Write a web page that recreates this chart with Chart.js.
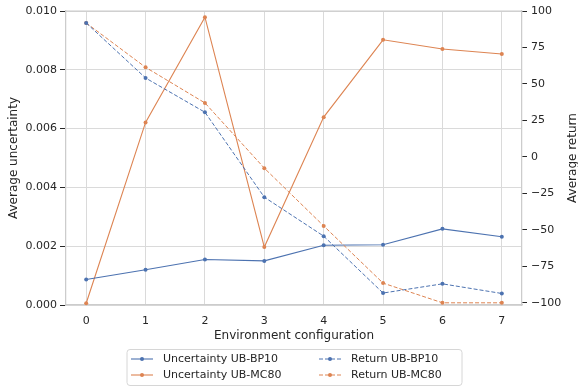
<!DOCTYPE html>
<html>
<head>
<meta charset="utf-8">
<script src="https://cdn.jsdelivr.net/npm/chart.js@4.4.1/dist/chart.umd.min.js"></script>
<style>
  html, body { margin: 0; padding: 0; background: #fff; }
</style>
</head>
<body>
<canvas id="chart" width="578" height="387"></canvas>
<script>
// environment configurations on the x axis
const configs = [0, 1, 2, 3, 4, 5, 6, 7]

// average uncertainty (left axis)
const uncertaintyBP10 = [0.00087, 0.00120, 0.00155, 0.00150, 0.00203, 0.00205, 0.00259, 0.00232]
const uncertaintyMC80 = [0.00006, 0.00621, 0.00979, 0.00197, 0.00639, 0.00902, 0.00871, 0.00854]

// average return (right axis)
const returnBP10 = [91.8, 54.1, 30.6, -27.6, -54.3, -93.3, -87.0, -93.6]
const returnMC80 = [91.8, 61.4, 37.0, -7.7, -47.3, -86.5, -100, -100]

const leftTicks = [0, 0.002, 0.004, 0.006, 0.008, 0.010]
const rightTicks = [-100, -75, -50, -25, 0, 25, 50, 75, 100]

const blue = '#4C72B0'
const orange = '#DD8452'
const textColor = '#262626'
const spineColor = '#cccccc'
const gridColor = '#dadada'

Chart.defaults.font.family = "'DejaVu Sans', sans-serif"
Chart.defaults.font.size = 11
Chart.defaults.color = textColor

const toPoints = values => values.map((v, i) => ({ x: configs[i], y: v }))

function lineSet(label, values, color, axis, dashed) {
  return {
    label: label,
    data: toPoints(values),
    yAxisID: axis,
    borderColor: color,
    backgroundColor: color,
    borderWidth: dashed ? 1 : 1.1,
    borderDash: dashed ? [4, 2] : [],
    pointRadius: 2,
    pointBorderWidth: 0,
    pointBackgroundColor: color,
    tension: 0,
    clip: false,
    order: dashed ? 0 : 1
  }
}

// top spine, right axis title (reads bottom to top) and the legend box
const extras = {
  id: 'extras',
  afterDraw(chart) {
    const ctx = chart.ctx
    const area = chart.chartArea
    ctx.save()
    ctx.strokeStyle = spineColor
    ctx.lineWidth = 1.25
    ctx.beginPath()
    ctx.moveTo(area.left, area.top)
    ctx.lineTo(area.right, area.top)
    ctx.stroke()

    ctx.save()
    ctx.translate(572.5, (area.top + area.bottom) / 2)
    ctx.rotate(-Math.PI / 2)
    ctx.font = "12px 'DejaVu Sans', sans-serif"
    ctx.fillStyle = textColor
    ctx.textAlign = 'center'
    ctx.textBaseline = 'middle'
    ctx.fillText('Average return', 0, 0)
    ctx.restore()

    // legend frame
    const bx = 127, by = 349.5, bw = 335, bh = 36, r = 3
    ctx.beginPath()
    ctx.moveTo(bx + r, by)
    ctx.arcTo(bx + bw, by, bx + bw, by + bh, r)
    ctx.arcTo(bx + bw, by + bh, bx, by + bh, r)
    ctx.arcTo(bx, by + bh, bx, by, r)
    ctx.arcTo(bx, by, bx + bw, by, r)
    ctx.closePath()
    ctx.fillStyle = 'rgba(255,255,255,0.8)'
    ctx.fill()
    ctx.strokeStyle = '#d6d6d6'
    ctx.lineWidth = 1
    ctx.stroke()

    const colX = [131, 319]
    const rowY = [359, 375]
    ctx.font = "11px 'DejaVu Sans', sans-serif"
    ctx.textBaseline = 'middle'
    ctx.textAlign = 'left'
    chart.data.datasets.forEach((ds, i) => {
      const x = colX[Math.floor(i / 2)]
      const y = rowY[i % 2]
      ctx.strokeStyle = ds.borderColor
      ctx.lineWidth = ds.borderWidth
      ctx.setLineDash(ds.borderDash)
      ctx.beginPath()
      ctx.moveTo(x, y)
      ctx.lineTo(x + 22, y)
      ctx.stroke()
      ctx.setLineDash([])
      ctx.fillStyle = ds.borderColor
      ctx.beginPath()
      ctx.arc(x + 11, y, 2, 0, Math.PI * 2)
      ctx.fill()
      ctx.fillStyle = textColor
      ctx.fillText(ds.label, x + 32, y + 0.5)
    })
    ctx.restore()
  }
}

new Chart(document.getElementById('chart'), {
  type: 'line',
  data: {
    datasets: [
      lineSet('Uncertainty UB-BP10', uncertaintyBP10, blue, 'yLeft', false),
      lineSet('Uncertainty UB-MC80', uncertaintyMC80, orange, 'yLeft', false),
      lineSet('Return UB-BP10', returnBP10, blue, 'yRight', true),
      lineSet('Return UB-MC80', returnMC80, orange, 'yRight', true)
    ]
  },
  options: {
    responsive: false,
    animation: false,
    layout: { padding: { top: 11, bottom: 42, left: 0, right: 0 } },
    plugins: {
      legend: { display: false },
      tooltip: { enabled: false }
    },
    scales: {
      x: {
        type: 'linear',
        min: -0.34,
        max: 7.34,
        afterBuildTicks: s => { s.ticks = configs.map(v => ({ value: v })) },
        afterFit: s => { s.height = 40 },
        ticks: { padding: 10, callback: v => String(v) },
        grid: { color: gridColor, lineWidth: 1, drawTicks: false },
        border: { color: spineColor, width: 1.25 },
        title: {
          display: true,
          text: 'Environment configuration',
          font: { size: 12 },
          padding: { top: 0, bottom: 1.5 }
        }
      },
      yLeft: {
        type: 'linear',
        position: 'left',
        min: 0,
        max: 0.01,
        afterBuildTicks: s => { s.ticks = leftTicks.map(v => ({ value: v })) },
        afterFit: s => { s.width = 66 },
        ticks: { padding: 3, callback: v => v.toFixed(3) },
        grid: { color: gridColor, lineWidth: 1, tickLength: 6, tickColor: textColor, tickWidth: 1 },
        border: { color: spineColor, width: 1.25 },
        title: {
          display: true,
          text: 'Average uncertainty',
          font: { size: 12 },
          padding: { top: 7, bottom: 0 }
        }
      },
      yRight: {
        type: 'linear',
        position: 'right',
        min: -101.5,
        max: 100,
        afterBuildTicks: s => { s.ticks = rightTicks.map(v => ({ value: v })) },
        afterFit: s => { s.width = 56 },
        ticks: { padding: 4, callback: v => v < 0 ? '\u2212' + Math.abs(v) : String(v) },
        grid: { drawOnChartArea: false, tickLength: 5, tickColor: textColor, tickWidth: 1 },
        border: { color: spineColor, width: 1.25 }
      }
    }
  },
  plugins: [extras]
})
</script>
</body>
</html>
